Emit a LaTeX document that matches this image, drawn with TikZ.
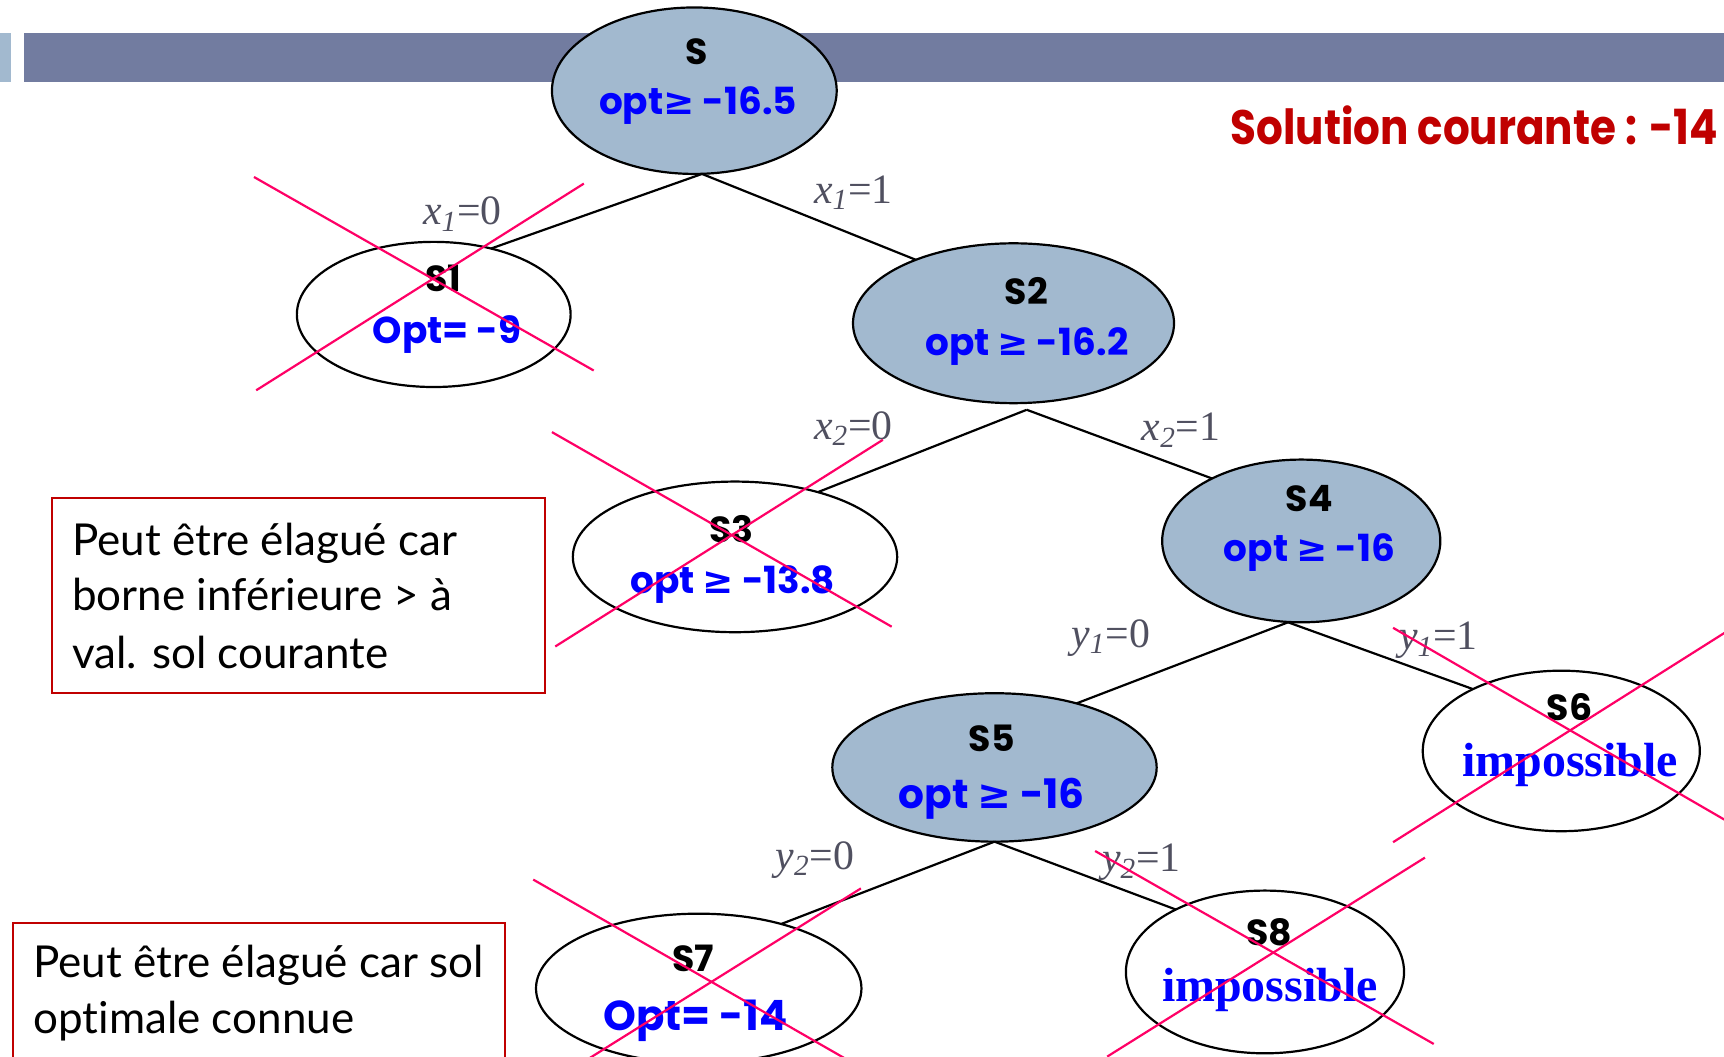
\documentclass[tikz,border=0pt]{standalone}
\usepackage{graphicx}
\usepackage{fontspec}
\setmainfont{Lato}[Ligatures=NoCommon]
\newfontfamily\timesfont{Liberation Serif}
\newfontfamily\labelfont{Poppins}
\newfontfamily\symbfont{DejaVu Sans}
\usetikzlibrary{shapes.geometric}

\definecolor{nodefill}{RGB}{162,185,207}
\definecolor{barblue}{RGB}{114,124,160}
\definecolor{optblue}{RGB}{0,0,255}
\definecolor{titlered}{RGB}{192,0,0}
\definecolor{cutred}{RGB}{255,0,102}
\definecolor{edgegray}{RGB}{80,80,96}

\newcommand\geqs{{\symbfont\bfseries ≥}}

\tikzset{
  state/.style={ellipse, draw=black, line width=1pt, inner sep=0pt, outer sep=0pt},
  openstate/.style={state, fill=nodefill},
  closedstate/.style={state, fill=white},
  sname/.style={font=\labelfont\fontsize{16.5}{17}\selectfont\bfseries, text=black, anchor=base, inner sep=0pt},
  sval/.style={font=\labelfont\fontsize{17}{17}\selectfont\bfseries, text=optblue, anchor=base, inner sep=0pt},
  simp/.style={font=\timesfont\fontsize{21.8}{22}\selectfont\bfseries, text=optblue, anchor=base, inner sep=0pt},
  branch/.style={draw=black, line width=1pt},
  elabel/.style={font=\timesfont\fontsize{19}{19}\selectfont, text=edgegray, anchor=base west, inner sep=0pt},
  cut/.style={draw=cutred, line width=1pt},
  notebox/.style={draw=titlered, line width=1pt, fill=white, inner sep=0pt},
  notetext/.style={font=\fontsize{20}{20}\selectfont, text=black, anchor=base west, inner sep=0pt},
}

\begin{document}
\begin{tikzpicture}[x=0.5pt, y=-0.5pt]
  \clip (0,0) rectangle (1568,961);
  \useasboundingbox (0,0) rectangle (1568,961);

  % title bar
  \fill[nodefill] (0,30) rectangle (10,74.5);
  \fill[barblue] (22,30) rectangle (1568,74.5);

  % current best solution
  \node[font=\labelfont\fontsize{22}{22}\selectfont\bfseries, text=titlered, anchor=base west, inner sep=0pt]
    (best) at (1118.8,131) {\scalebox{0.87}[1]{Solution courante : -14}};

  % tree nodes
  \node[openstate,   minimum width=129.5pt, minimum height=75.7pt] (S)  at (631.5,82.5) {};
  \node[closedstate, minimum width=124.5pt, minimum height=66pt]   (S1) at (394.5,286) {};
  \node[openstate,   minimum width=146pt,   minimum height=72.7pt] (S2) at (921.8,294) {};
  \node[closedstate, minimum width=147.5pt, minimum height=68.5pt] (S3) at (668.5,506.5) {};
  \node[openstate,   minimum width=126.5pt, minimum height=74pt]   (S4) at (1183.5,492) {};
  \node[openstate,   minimum width=147.5pt, minimum height=67.5pt] (S5) at (904.5,698) {};
  \node[closedstate, minimum width=126pt,   minimum height=73pt]   (S6) at (1420,683) {};
  \node[closedstate, minimum width=148pt,   minimum height=68pt]   (S7) at (635.5,899) {};
  \node[closedstate, minimum width=126.5pt, minimum height=74pt]   (S8) at (1150.5,884) {};

  % node labels
  \node[sname] (Sn)  at (634,59)      {S};
  \node[sval]  (Sv)  at (635,104.6)   {opt\geqs{} -16.5};
  \node[sname] (S1n) at (403,265.3)   {S1};
  \node[sval]  (S1v) at (406.5,312.7) {Opt= -9};
  \node[sname] (S2n) at (933.5,276.5) {S2};
  \node[sval]  (S2v) at (934,323)     {opt \geqs{} -16.2};
  \node[sname] (S3n) at (665,493.5)   {S3};
  \node[sval]  (S3v) at (666.5,539.6) {opt \geqs{} -13.8};
  \node[sname] (S4n) at (1190.7,464.8){S4};
  \node[sval]  (S4v) at (1191,510.8)  {opt \geqs{} -16};
  \node[sname] (S5n) at (902,683.6)   {S5};
  \node[sval, font=\labelfont\fontsize{18.5}{18.5}\selectfont\bfseries] (S5v) at (902,735) {opt \geqs{} -16};
  \node[sname] (S6n) at (1427.5,655)  {S6};
  \node[simp]  (S6v) at (1428,706.4)  {impossible};
  \node[sname] (S7n) at (630.5,883.7) {S7};
  \node[sval, font=\labelfont\fontsize{19}{19}\selectfont\bfseries] (S7v) at (632.6,936.8) {Opt= -14};
  \node[sname] (S8n) at (1154.5,859.5){S8};
  \node[simp]  (S8v) at (1155,911)    {impossible};

  % branch feet
  \coordinate (Sf)  at ([xshift=3.5pt]S.south);
  \coordinate (S2f) at ([xshift=6pt,yshift=-3pt]S2.south);
  \coordinate (S4f) at ([xshift=-6pt]S4.south);
  \coordinate (S5f) at (S5.south);

  % branches
  \draw[branch] (Sf)  -- (S1.49);
  \draw[branch] (Sf)  -- (S2.147);
  \draw[branch] (S2f) -- (S3.38);
  \draw[branch] (S2f) -- (S4.145);
  \draw[branch] (S4f) -- (S5.38);
  \draw[branch] (S4f) -- (S6.145);
  \draw[branch] (S5f) -- (S7.38);
  \draw[branch] (S5f) -- (S8.145);

  % branch labels
  \node[elabel] (b1) at (384.4,204.6) {\textit{x}\textsubscript{\textit{1}}=0};
  \node[elabel] (b2) at (740,185)     {\textit{x}\textsubscript{\textit{1}}=1};
  \node[elabel] (b3) at (740,399.5)   {\textit{x}\textsubscript{\textit{2}}=0};
  \node[elabel] (b4) at (1038,401)    {\textit{x}\textsubscript{\textit{2}}=1};
  \node[elabel] (b5) at (974,589)     {\textit{y}\textsubscript{\textit{1}}=0};
  \node[elabel] (b6) at (1272,591)    {\textit{y}\textsubscript{\textit{1}}=1};
  \node[elabel] (b7) at (705,790.6)   {\textit{y}\textsubscript{\textit{2}}=0};
  \node[elabel] (b8) at (1002,793)    {\textit{y}\textsubscript{\textit{2}}=1};

  % pruned nodes
  \draw[cut] (231,161) -- (540,337);
  \draw[cut] (233,355) -- (531,167);
  \draw[cut] (502,393) -- (811,570);
  \draw[cut] (505,588) -- (803,400);
  \draw[cut] (1267,571) -- (1590,758);
  \draw[cut] (1267,766) -- (1590,562);
  \draw[cut] (485,800) -- (790,975);
  \draw[cut] (516,975) -- (783,808);
  \draw[cut] (996,774) -- (1304,949.5);
  \draw[cut] (1007,961) -- (1296,780);

  % notes
  \node[notebox, minimum width=224.5pt, minimum height=88.75pt] (note1) at (271.5,541.75) {};
  \node[notetext] (note1a) at (65.4,505)   {Peut être élagué car};
  \node[notetext] (note1b) at (65.4,555.6) {borne inférieure > à};
  \node[notetext] (note1c) at (65.4,607.7) {val. sol courante};

  \node[notebox, minimum width=224pt, minimum height=90pt] (note2) at (235.5,929.7) {};
  \node[notetext] (note2a) at (30,888.6) {Peut être élagué car sol};
  \node[notetext] (note2b) at (30,939.7) {optimale connue};
\end{tikzpicture}
\end{document}
